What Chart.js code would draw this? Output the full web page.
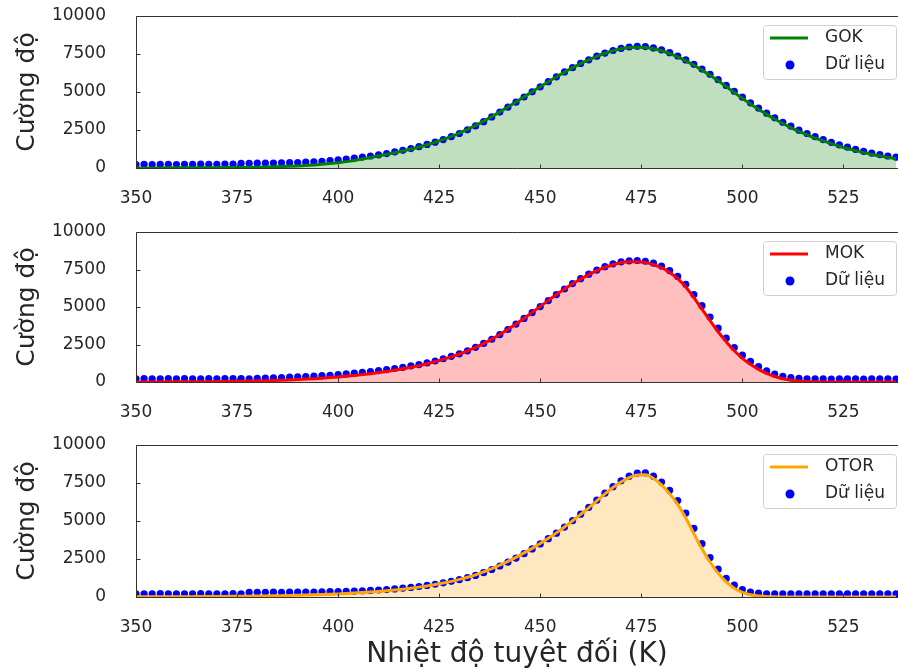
<!DOCTYPE html>
<html lang="vi">
<head>
<meta charset="utf-8">
<title>Cường độ theo nhiệt độ</title>
<script src="https://cdn.jsdelivr.net/npm/chart.js@4.4.1/dist/chart.umd.min.js"></script>
<style>
  html, body { margin: 0; padding: 0; background: #fff; }
  #wrap  { position: relative; width: 898px; height: 672px; overflow: hidden; }
  .panel { position: absolute; left: 0; width: 898px; }
  .panel canvas { display: block; }
</style>
</head>
<body>
<div id="wrap">
  <div class="panel" style="top:0px"><canvas id="c0" width="898" height="216"></canvas></div>
  <div class="panel" style="top:216px"><canvas id="c1" width="898" height="213"></canvas></div>
  <div class="panel" style="top:429px"><canvas id="c2" width="898" height="243"></canvas></div>
</div>
<script>
// ─────────────────────────────────────────────
//  Data
// ─────────────────────────────────────────────

const TEMPS = [
  350, 352, 354, 356, 358, 360, 362, 364, 366, 368,
  370, 372, 374, 376, 378, 380, 382, 384, 386, 388,
  390, 392, 394, 396, 398, 400, 402, 404, 406, 408,
  410, 412, 414, 416, 418, 420, 422, 424, 426, 428,
  430, 432, 434, 436, 438, 440, 442, 444, 446, 448,
  450, 452, 454, 456, 458, 460, 462, 464, 466, 468,
  470, 472, 474, 476, 478, 480, 482, 484, 486, 488,
  490, 492, 494, 496, 498, 500, 502, 504, 506, 508,
  510, 512, 514, 516, 518, 520, 522, 524, 526, 528,
  530, 532, 534, 536, 538,
];

const GOK_FIT = [
  5, 6, 7, 8, 9, 11, 13, 15, 18, 21,
  25, 29, 34, 40, 47, 56, 67, 80, 96, 115,
  138, 165, 200, 240, 290, 350, 420, 500, 595, 690,
  790, 895, 1005, 1120, 1245, 1380, 1530, 1695, 1880, 2080,
  2300, 2540, 2800, 3080, 3380, 3690, 4010, 4340, 4680, 5020,
  5350, 5680, 6000, 6310, 6600, 6870, 7120, 7350, 7550, 7710,
  7840, 7920, 7950, 7920, 7840, 7710, 7530, 7310, 7050, 6760,
  6440, 6100, 5740, 5360, 4970, 4580, 4210, 3860, 3530, 3220,
  2930, 2660, 2410, 2180, 1970, 1780, 1600, 1430, 1280, 1140,
  1010, 890, 790, 700, 620,
];
const GOK_DATA = [
  230, 240, 225, 235, 245, 230, 240, 235, 250, 240,
  245, 255, 250, 300, 310, 320, 315, 330, 345, 350,
  360, 385, 410, 445, 480, 530, 590, 650, 720, 790,
  870, 950, 1060, 1160, 1280, 1400, 1550, 1700, 1870, 2060,
  2270, 2510, 2770, 3050, 3360, 3680, 4000, 4330, 4670, 5010,
  5340, 5680, 6000, 6320, 6600, 6880, 7120, 7360, 7560, 7730,
  7870, 7960, 8010, 7990, 7900, 7770, 7590, 7370, 7110, 6820,
  6510, 6160, 5810, 5430, 5050, 4660, 4290, 3940, 3610, 3300,
  3010, 2750, 2490, 2270, 2060, 1870, 1690, 1520, 1370, 1230,
  1100, 980, 880, 790, 710,
];

const MOK_FIT = [
  5, 6, 7, 8, 10, 12, 14, 17, 20, 24,
  29, 35, 42, 50, 60, 72, 86, 102, 120, 141,
  165, 192, 222, 256, 294, 336, 383, 435, 492, 556,
  626, 703, 788, 880, 980, 1090, 1215, 1355, 1510, 1680,
  1865, 2075, 2310, 2570, 2860, 3170, 3510, 3870, 4250, 4640,
  5040, 5440, 5830, 6200, 6550, 6870, 7160, 7420, 7640, 7820,
  7950, 8010, 8020, 7960, 7820, 7620, 7300, 6890, 6330, 5620,
  4860, 4100, 3350, 2690, 2080, 1580, 1180, 840, 570, 370,
  220, 120, 60, 28, 12, 5, 2, 1, 0, 0,
  0, 0, 0, 0, 0,
];
const MOK_DATA = [
  210, 220, 205, 215, 225, 210, 220, 215, 205, 220,
  215, 225, 220, 230, 215, 240, 260, 280, 300, 320,
  340, 365, 390, 420, 450, 490, 540, 590, 640, 700,
  760, 830, 900, 980, 1070, 1160, 1270, 1400, 1550, 1710,
  1880, 2080, 2310, 2570, 2850, 3160, 3500, 3860, 4240, 4630,
  5030, 5430, 5830, 6200, 6560, 6890, 7190, 7460, 7690, 7880,
  8010, 8080, 8100, 8050, 7920, 7730, 7430, 7040, 6510, 5830,
  5090, 4330, 3590, 2920, 2300, 1790, 1370, 1020, 740, 530,
  380, 290, 240, 215, 205, 210, 200, 215, 205, 210,
  200, 215, 205, 210, 200,
];

const OTOR_FIT = [
  10, 12, 13, 15, 17, 19, 21, 24, 27, 31,
  35, 39, 44, 50, 56, 63, 71, 80, 90, 101,
  114, 128, 144, 162, 182, 205, 230, 258, 290, 325,
  365, 410, 460, 515, 580, 650, 730, 820, 920, 1030,
  1160, 1300, 1460, 1650, 1870, 2100, 2350, 2610, 2900, 3200,
  3520, 3860, 4220, 4610, 5020, 5440, 5870, 6330, 6780, 7200,
  7560, 7850, 8030, 8040, 7800, 7380, 6800, 6090, 5200, 4170,
  3170, 2300, 1570, 990, 580, 310, 150, 70, 30, 12,
  5, 2, 1, 0, 0, 0, 0, 0, 0, 0,
  0, 0, 0, 0, 0,
];
const OTOR_DATA = [
  200, 215, 205, 220, 210, 205, 215, 210, 220, 205,
  215, 210, 220, 215, 300, 310, 305, 320, 310, 315,
  320, 330, 325, 340, 350, 360, 375, 390, 410, 430,
  460, 490, 530, 580, 630, 690, 760, 840, 930, 1030,
  1140, 1270, 1420, 1600, 1810, 2040, 2290, 2560, 2850, 3160,
  3490, 3840, 4200, 4600, 5020, 5450, 5900, 6370, 6830, 7260,
  7640, 7950, 8150, 8170, 7950, 7560, 7020, 6350, 5520, 4520,
  3510, 2600, 1830, 1220, 780, 490, 320, 250, 215, 205,
  210, 200, 215, 205, 210, 200, 210, 205, 215, 200,
  210, 205, 200, 215, 205,
];

const MODEL_NAMES = ['GOK', 'MOK', 'OTOR'];
const DATA_LABEL  = 'Dữ liệu';
const X_TITLE     = 'Nhiệt độ tuyệt đối (K)';
const Y_TITLE     = 'Cường độ';

// ─────────────────────────────────────────────
//  Panel setup
// ─────────────────────────────────────────────

const FONT = "'DejaVu Sans', 'Liberation Sans', sans-serif";
const INK  = '#262626';

const PANELS = [
  { canvas: 'c0', name: MODEL_NAMES[0], fit: GOK_FIT,  data: GOK_DATA,  color: '#008000', fill: 'rgba(0,128,0,0.25)',   axisH: 48, xTitle: false },
  { canvas: 'c1', name: MODEL_NAMES[1], fit: MOK_FIT,  data: MOK_DATA,  color: '#ff0000', fill: 'rgba(255,0,0,0.25)',   axisH: 47, xTitle: false },
  { canvas: 'c2', name: MODEL_NAMES[2], fit: OTOR_FIT, data: OTOR_DATA, color: '#ffa500', fill: 'rgba(255,165,0,0.25)', axisH: 75, xTitle: true  },
];

const toPoints = ys => TEMPS.map((t, i) => ({ x: t, y: ys[i] }));

// spines + inward tick marks, matplotlib style
const framePlugin = {
  id: 'frame',
  afterDatasetsDraw(chart) {
    const { ctx, chartArea: { left, right, top, bottom }, scales: { x, y } } = chart;
    const L = Math.round(left) + 0.5, T = Math.round(top) + 0.5, B = Math.round(bottom) + 0.5;
    ctx.save();
    ctx.strokeStyle = '#333';
    ctx.lineWidth = 1;
    ctx.beginPath();
    ctx.moveTo(L, T); ctx.lineTo(right + 2, T);
    ctx.moveTo(L, T); ctx.lineTo(L, B);
    ctx.moveTo(L, B); ctx.lineTo(right + 2, B);
    x.ticks.forEach(t => {
      const px = Math.round(x.getPixelForValue(t.value)) + 0.5;
      ctx.moveTo(px, B); ctx.lineTo(px, B - 4);
    });
    y.ticks.forEach(t => {
      const py = Math.round(y.getPixelForValue(t.value)) + 0.5;
      ctx.moveTo(L, py); ctx.lineTo(L + 4, py);
    });
    ctx.stroke();
    ctx.restore();
  }
};

// legend box in the upper right of the axes
const boxLegendPlugin = {
  id: 'boxLegend',
  afterDraw(chart) {
    const { ctx, chartArea: { right, top } } = chart;
    const [fitDs, dataDs] = chart.data.datasets;
    const bx = right - 135, by = top + 9, bw = 133, bh = 54;
    ctx.save();
    ctx.fillStyle = 'rgba(255,255,255,0.8)';
    ctx.strokeStyle = '#d0d0d0';
    ctx.lineWidth = 1;
    ctx.beginPath();
    ctx.roundRect(bx + 0.5, by + 0.5, bw, bh, 3);
    ctx.fill();
    ctx.stroke();

    const row1 = by + 13, row2 = by + 40;
    ctx.strokeStyle = fitDs.borderColor;
    ctx.lineWidth = 3;
    ctx.beginPath();
    ctx.moveTo(bx + 7, row1); ctx.lineTo(bx + 45, row1);
    ctx.stroke();

    ctx.fillStyle = dataDs.backgroundColor;
    ctx.beginPath();
    ctx.arc(bx + 27, row2, 4.5, 0, Math.PI * 2);
    ctx.fill();

    ctx.fillStyle = INK;
    ctx.font = `17px ${FONT}`;
    ctx.textBaseline = 'middle';
    ctx.fillText(fitDs.label, bx + 62, row1);
    ctx.fillText(dataDs.label, bx + 62, row2);
    ctx.restore();
  }
};

function renderPanel(p) {
  const ctx = document.getElementById(p.canvas).getContext('2d');
  new Chart(ctx, {
    type: 'scatter',
    data: {
      datasets: [
        {
          label: p.name,
          data: toPoints(p.fit),
          showLine: true,
          borderColor: p.color,
          borderWidth: 3,
          pointRadius: 0,
          fill: 'origin',
          backgroundColor: p.fill,
          cubicInterpolationMode: 'monotone',
        },
        {
          label: DATA_LABEL,
          data: toPoints(p.data),
          backgroundColor: '#0000ff',
          borderWidth: 0,
          pointRadius: 3.6,
        },
      ]
    },
    options: {
      responsive: false,
      animation: false,
      events: [],
      layout: { autoPadding: false, padding: { top: 16, left: 0, right: 0, bottom: 0 } },
      plugins: {
        legend:  { display: false },
        tooltip: { enabled: false },
        filler:  { drawTime: 'beforeDatasetsDraw' },
      },
      scales: {
        x: {
          type: 'linear',
          min: 350,
          max: 538.5,
          grid:   { display: false, drawTicks: false },
          border: { display: false },
          ticks: {
            stepSize: 25,
            includeBounds: false,
            padding: 20,
            color: INK,
            font: { family: FONT, size: 17 },
            callback: v => String(v),
          },
          title: {
            display: p.xTitle,
            text: X_TITLE,
            color: INK,
            padding: { top: 0, bottom: 0 },
            font: { family: FONT, size: 28 },
          },
          afterFit: s => {
            s.height = p.axisH;
            s.paddingLeft = 0; s.paddingRight = 0;
          },
        },
        y: {
          min: 0,
          max: 10000,
          grid:   { display: false, drawTicks: false },
          border: { display: false },
          ticks: {
            stepSize: 2500,
            padding: 30,
            color: INK,
            font: { family: FONT, size: 17 },
            callback: v => String(v),
          },
          title: {
            display: true,
            text: Y_TITLE,
            color: INK,
            padding: { top: 12, bottom: 0 },
            font: { family: FONT, size: 25 },
          },
          afterFit: s => {
            s.width = 136;
            s.paddingTop = 0; s.paddingBottom = 0;
          },
        }
      }
    },
    plugins: [framePlugin, boxLegendPlugin]
  });
}

PANELS.forEach(renderPanel);
</script>
</body>
</html>
